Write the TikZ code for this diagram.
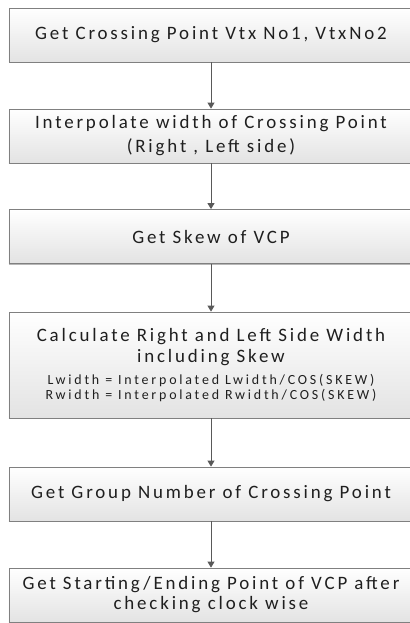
\documentclass[tikz,border=0pt]{standalone}
\usepackage{fontspec}
\setmainfont{Carlito}[LetterSpace=15]
\newfontfamily\smallfam{Carlito}[LetterSpace=20]
\usepackage{tikz}
\usetikzlibrary{arrows.meta,positioning,shadows}
\tikzset{
	stepbox/.style={draw=black!50, line width=0.8bp, top color=white, bottom color=black!11,
		drop shadow={shadow xshift=0bp, shadow yshift=-1.3bp, opacity=0.7, fill=black!40},
		minimum width=404bp, minimum height=54bp, align=center, inner sep=0pt,
		text=black!88, font=\fontsize{19}{24}\selectfont},
	flow/.style={draw=black!65, line width=0.9bp, -{Triangle[width=7bp,length=6bp]}},
}
\newcommand{\smalltxt}{\smallfam\fontsize{14}{13}\selectfont}

\begin{document}
\begin{tikzpicture}[x=1bp, y=-1bp]
	\useasboundingbox (0,0) rectangle (409,623);
	\node[stepbox] at (211,35.0) (vtx) {Get Crossing Point Vtx No1, VtxNo2};
	\node[stepbox] at (211,136.0) (interp) {Interpolate width of Crossing Point\\(Right , Left side)};
	\node[stepbox] at (211,236.5) (skew) {Get Skew of VCP};
	\node[stepbox, minimum height=106bp] at (211,365.0) (calc) {Calculate Right and Left Side Width\\[-2.5bp]including Skew\\[-2.5bp]
		{\smalltxt Lwidth = Interpolated Lwidth/COS(SKEW)}\\[-8.5bp]
		{\smalltxt Rwidth = Interpolated Rwidth/COS(SKEW)}};
	\node[stepbox] at (211,494.0) (group) {Get Group Number of Crossing Point};
	\node[stepbox] at (211,595.0) (endpt) {Get Starting/Ending Point of VCP after\\[-4bp]checking clock wise};
	\draw[flow] (vtx) -- (interp);
	\draw[flow] (interp) -- (skew);
	\draw[flow] (skew) -- (calc);
	\draw[flow] (calc) -- (group);
	\draw[flow] (group) -- (endpt);
\end{tikzpicture}
\end{document}
